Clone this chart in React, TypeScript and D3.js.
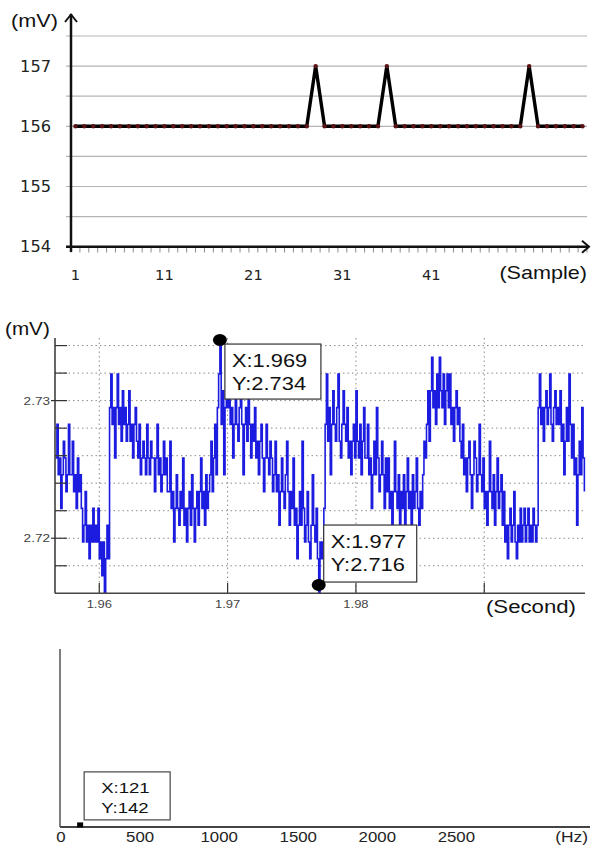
import * as d3 from "d3";
import { useEffect, useRef } from "react";

const W = 591;
const H = 845;
const ARIAL = "'Liberation Sans', Arial, sans-serif";
const VERDANA = "'DejaVu Sans', Verdana, sans-serif";

// ---- top chart: raw ADC samples (mV) ----
const sampleNumbers = d3.range(1, 59);
const sampleValues = [
  156, 156, 156, 156, 156, 156, 156, 156, 156, 156,
  156, 156, 156, 156, 156, 156, 156, 156, 156, 156,
  156, 156, 156, 156, 156, 156, 156, 157, 156, 156,
  156, 156, 156, 156, 156, 157, 156, 156, 156, 156,
  156, 156, 156, 156, 156, 156, 156, 156, 156, 156,
  156, 157, 156, 156, 156, 156, 156, 156,
];
const sampleTickLabels = [1, 11, 21, 31, 41];
const sampleYTicks = [154, 155, 156, 157];

// ---- middle chart: signal in time (12-bit codes, 5 V ref) ----
const adcStart = 1.9566; // s
const adcPeriod = 0.0001; // s
const adcLsb = 5 / 4096;
const adcCodes = [
  2233, 2235, 2232, 2233, 2230, 2232, 2234, 2233, 2231, 2232, 2235, 2232,
  2232, 2234, 2231, 2232, 2230, 2233, 2231, 2232,
  2230, 2228, 2229, 2231, 2228, 2229, 2227, 2229, 2228, 2230, 2228, 2229,
  2228, 2230, 2227, 2228, 2226, 2228, 2225, 2227, 2229, 2227,
  2236, 2238, 2235, 2236, 2233, 2236, 2238, 2235, 2236, 2234, 2237, 2235, 2236, 2234,
  2235, 2237, 2234, 2235, 2233, 2235, 2236, 2234,
  2233, 2235, 2232, 2233, 2234, 2233, 2232, 2235, 2233, 2232, 2234, 2233,
  2233, 2231, 2233, 2235, 2232, 2233, 2231, 2232, 2234, 2232, 2233, 2231,
  2231, 2234, 2230, 2231, 2228, 2230, 2232, 2230, 2229, 2231,
  2230, 2233, 2229, 2230, 2228, 2230, 2231, 2229, 2232, 2230, 2228, 2230,
  2231, 2229, 2231, 2233, 2230, 2231, 2229, 2232, 2230, 2231,
  2232, 2234, 2231, 2233, 2235, 2232,
  2236, 2238, 2240, 2235, 2237, 2232, 2236, 2237,
  2236, 2238, 2235, 2236, 2233, 2235, 2237, 2235, 2234, 2236,
  2238, 2235, 2232, 2235, 2236, 2234, 2237, 2235, 2233, 2235,
  2234, 2236, 2233, 2234, 2232, 2234, 2235, 2233, 2231, 2233,
  2235, 2233, 2232, 2234, 2233, 2231,
  2232, 2234, 2231, 2232, 2229, 2231, 2233, 2231, 2230, 2232,
  2234, 2231, 2229, 2231,
  2230, 2233, 2229, 2230, 2227, 2229, 2231, 2229, 2234, 2230, 2228, 2229,
  2231, 2228, 2227, 2229, 2232, 2229, 2228, 2230, 2227, 2225, 2228, 2227,
  2228, 2230,
  2235, 2238, 2234, 2236, 2232, 2235, 2237, 2235, 2234, 2236,
  2238, 2234, 2233, 2235, 2237, 2235,
  2234, 2236, 2233, 2234, 2232, 2234, 2235, 2233, 2237, 2234,
  2233, 2235, 2232, 2234, 2236, 2233,
  2233, 2235, 2232, 2233, 2230, 2232, 2234, 2232, 2236, 2233,
  2231, 2232, 2234, 2232, 2230, 2233,
  2231, 2233, 2230, 2231, 2229, 2231, 2234, 2231, 2230, 2232, 2229, 2231,
  2230, 2232, 2229, 2231, 2233, 2230, 2231, 2229, 2232, 2230,
  2231, 2233, 2230, 2229, 2231, 2230,
  2232, 2234, 2233, 2235, 2237, 2234,
  2237, 2239, 2236, 2237, 2235, 2238, 2236, 2239, 2237, 2236,
  2238, 2235, 2237, 2238,
  2236, 2238, 2235, 2236, 2234, 2236, 2237, 2235, 2236, 2234,
  2233, 2235, 2232, 2233, 2231, 2233, 2234, 2232, 2230, 2232,
  2234, 2233, 2231, 2232, 2235, 2232,
  2231, 2233, 2230, 2231, 2229, 2231, 2234, 2231, 2230, 2232,
  2229, 2231, 2233, 2230, 2231, 2232,
  2229, 2231, 2228, 2229, 2227, 2229, 2230, 2228, 2229, 2231,
  2228, 2227, 2229, 2228, 2230, 2228,
  2229, 2230, 2228, 2229, 2230, 2228, 2229, 2228, 2230, 2229, 2228, 2229,
  2236, 2238, 2235, 2236, 2234, 2236, 2237, 2235, 2236, 2238,
  2235, 2234, 2236, 2237, 2235, 2236,
  2235, 2237, 2234, 2235, 2232, 2234, 2236, 2234, 2238, 2235,
  2233, 2235, 2232, 2233, 2229, 2232, 2234, 2232, 2236, 2233, 2231,
];
const timeTicks = [1.96, 1.97, 1.98, 1.99];
const timeTickLabels = ["1.96", "1.97", "1.98"];
const voltGrid = [2.718, 2.72, 2.722, 2.724, 2.726, 2.728, 2.73, 2.732, 2.734];
const voltLabels = [2.72, 2.73];
const timeTips = [
  { t: 1.9694, v: 2.7344, text: ["X:1.969", "Y:2.734"] },
  { t: 1.9771, v: 2.7166, text: ["X:1.977", "Y:2.716"] },
];

// ---- bottom chart: spectrum ----
const freqTicks = [0, 500, 1000, 1500, 2000, 2500];
const spectrumPeak = { hz: 121, amp: 142, text: ["X:121", "Y:142"] };

function label(g, x, y, str, size, opts: any = {}) {
  const { family = ARIAL, anchor = "start", fill = "#111", sx = 1.2 } = opts;
  g.append("text")
    .attr("transform", `translate(${x},${y}) scale(${sx},1)`)
    .attr("text-anchor", anchor)
    .attr("font-family", family)
    .attr("font-size", size)
    .attr("fill", fill)
    .text(str);
}

function drawSamples(g) {
  const x = d3.scaleBand<number>().domain(sampleNumbers).range([71, 587]);
  const cx = (d: number) => x(d)! + x.bandwidth() / 2;
  const y = d3.scaleLinear().domain([154, 157.5]).range([246.7, 36]);

  // grid
  g.selectAll(".grid")
    .data(y.ticks(7).filter(v => v > 154))
    .enter()
    .append("line")
    .attr("x1", 66).attr("x2", 587)
    .attr("y1", d => y(d)).attr("y2", d => y(d))
    .attr("stroke", "#b4b4b4").attr("stroke-width", 1.2);

  // minor ticks at band edges
  const edges = sampleNumbers.map(d => x(d)!).concat([x.range()[1]]);
  g.selectAll(".mtick")
    .data(edges)
    .enter()
    .append("line")
    .attr("x1", d => d).attr("x2", d => d)
    .attr("y1", 247).attr("y2", 252.5)
    .attr("stroke", "#8a8a8a").attr("stroke-width", 1);

  sampleYTicks.forEach(v => label(g, 51, y(v) + 5.5, String(v), 15, { family: VERDANA, anchor: "end", fill: "#222", sx: 1.08 }));
  sampleTickLabels.forEach(v => label(g, cx(v), 280, String(v), 14, { family: VERDANA, anchor: "middle", fill: "#222", sx: 1.05 }));

  // axes with arrows
  g.append("line").attr("x1", 71).attr("x2", 71).attr("y1", 14).attr("y2", 252)
    .attr("stroke", "#111").attr("stroke-width", 2.5);
  g.append("path").attr("d", "M65,22 L71,14.5 L77,22").attr("fill", "none")
    .attr("stroke", "#111").attr("stroke-width", 2);
  g.append("line").attr("x1", 66).attr("x2", 589).attr("y1", y(154)).attr("y2", y(154))
    .attr("stroke", "#111").attr("stroke-width", 2.5);
  g.append("path").attr("d", `M582,${y(154) - 6} L589,${y(154)} L582,${y(154) + 6}`)
    .attr("fill", "none").attr("stroke", "#111").attr("stroke-width", 2);

  const line = d3.line<number>().x((_, i) => cx(sampleNumbers[i])).y(d => y(d));
  g.append("path").attr("d", line(sampleValues)).attr("fill", "none")
    .attr("stroke", "#000").attr("stroke-width", 3.4).attr("stroke-linejoin", "miter");
  g.selectAll(".dot")
    .data(sampleValues)
    .enter()
    .append("circle")
    .attr("cx", (_, i) => cx(sampleNumbers[i]))
    .attr("cy", d => y(d))
    .attr("r", 2.2)
    .attr("fill", "#5a1212");

  label(g, 11, 27, "(mV)", 18.5, { sx: 1.17 });
  label(g, 587, 279, "(Sample)", 18, { anchor: "end" });
}

function drawVoltage(g) {
  const x = d3.scaleLinear().domain([1.95655, 1.99785]).range([55, 585]);
  const y = d3.scaleLinear().domain([2.716, 2.73455]).range([593.3, 338]);

  g.selectAll(".hgrid")
    .data(voltGrid)
    .enter()
    .append("line")
    .attr("x1", 55).attr("x2", 585)
    .attr("y1", d => y(d)).attr("y2", d => y(d))
    .attr("stroke", "#8c8c8c").attr("stroke-width", 1).attr("stroke-dasharray", "1.5,3");
  g.selectAll(".vgrid")
    .data(timeTicks)
    .enter()
    .append("line")
    .attr("x1", d => x(d)).attr("x2", d => x(d))
    .attr("y1", 338).attr("y2", 593)
    .attr("stroke", "#8c8c8c").attr("stroke-width", 1).attr("stroke-dasharray", "1.5,3");

  const pts = adcCodes.map((c, i) => [adcStart + i * adcPeriod, c * adcLsb] as [number, number]);
  const line = d3.line<[number, number]>().x(d => x(d[0])).y(d => y(d[1])).curve(d3.curveStepAfter);
  g.append("path").attr("d", line(pts)).attr("fill", "none")
    .attr("stroke", "#1c1ce0").attr("stroke-width", 1.6);

  // ticks
  g.selectAll(".ytick")
    .data(voltGrid)
    .enter()
    .append("line")
    .attr("x1", d => (voltLabels.includes(d) ? 51 : 55)).attr("x2", 67)
    .attr("y1", d => y(d)).attr("y2", d => y(d))
    .attr("stroke", "#333").attr("stroke-width", 1.2);
  g.selectAll(".xtick")
    .data(timeTicks)
    .enter()
    .append("line")
    .attr("x1", d => x(d)).attr("x2", d => x(d))
    .attr("y1", 583).attr("y2", 593)
    .attr("stroke", "#333").attr("stroke-width", 1.2);

  g.append("line").attr("x1", 55).attr("x2", 55).attr("y1", 338).attr("y2", 593.3)
    .attr("stroke", "#333").attr("stroke-width", 1.5);
  g.append("line").attr("x1", 55).attr("x2", 585).attr("y1", 593.3).attr("y2", 593.3)
    .attr("stroke", "#444").attr("stroke-width", 1.5);

  voltLabels.forEach(v => label(g, 50, y(v) + 4, String(v), 11.5, { anchor: "end", fill: "#444", sx: 1.18 }));
  timeTickLabels.forEach(s => label(g, x(+s), 608, s, 11, { anchor: "middle", fill: "#444", sx: 1.18 }));

  const boxes = [
    { dx: 5, dy: 4, w: 96, h: 55 },
    { dx: 5, dy: -60, w: 93, h: 57 },
  ];
  timeTips.forEach((tip, i) => {
    const px = x(tip.t);
    const py = y(tip.v);
    const b = boxes[i];
    g.append("rect").attr("x", px + b.dx).attr("y", py + b.dy).attr("width", b.w).attr("height", b.h)
      .attr("fill", "#fff").attr("stroke", "#333").attr("stroke-width", 1.2);
    tip.text.forEach((s, k) => label(g, px + b.dx + 7, py + b.dy + 23 + k * 23, s, 17.5, { sx: 1.25 }));
    g.append("ellipse").attr("cx", px).attr("cy", py).attr("rx", 7).attr("ry", 6).attr("fill", "#000");
  });

  label(g, 5, 335, "(mV)", 18, { sx: 1.15 });
  label(g, 576, 613, "(Second)", 18.5, { anchor: "end" });
}

function drawSpectrum(g) {
  const x = d3.scaleLinear().domain([0, 3345]).range([61, 590]);
  const y = d3.scaleLinear().domain([0, 12000]).range([827, 649]);

  g.append("line").attr("x1", 60).attr("x2", 60).attr("y1", 649).attr("y2", 827)
    .attr("stroke", "#555").attr("stroke-width", 1.5);
  g.append("line").attr("x1", 60).attr("x2", 590).attr("y1", 827).attr("y2", 827)
    .attr("stroke", "#444").attr("stroke-width", 1.8);

  freqTicks.forEach(v => label(g, x(v), 842, String(v), 14, { anchor: "middle", fill: "#222" }));
  label(g, 588, 842, "(Hz)", 14.5, { anchor: "end", fill: "#222" });

  const px = x(spectrumPeak.hz);
  const py = y(spectrumPeak.amp);
  g.append("rect").attr("x", px + 4).attr("y", py - 53).attr("width", 86).attr("height", 48)
    .attr("fill", "#fff").attr("stroke", "#444").attr("stroke-width", 1.2);
  spectrumPeak.text.forEach((s, k) => label(g, px + 21, py - 32 + k * 20, s, 15.5));
  g.append("rect").attr("x", px - 3).attr("y", py - 2.5).attr("width", 6).attr("height", 5).attr("fill", "#000");
}

export default function App() {
  const ref = useRef<SVGSVGElement>(null);

  useEffect(() => {
    const svg = d3.select(ref.current);
    svg.selectAll("*").remove();
    drawSamples(svg.append("g"));
    drawVoltage(svg.append("g"));
    drawSpectrum(svg.append("g"));
  }, []);

  return (
    <svg
      ref={ref}
      width={W}
      height={H}
      style={{ position: "absolute", left: 0, top: 0, background: "#fff" }}
    />
  );
}
